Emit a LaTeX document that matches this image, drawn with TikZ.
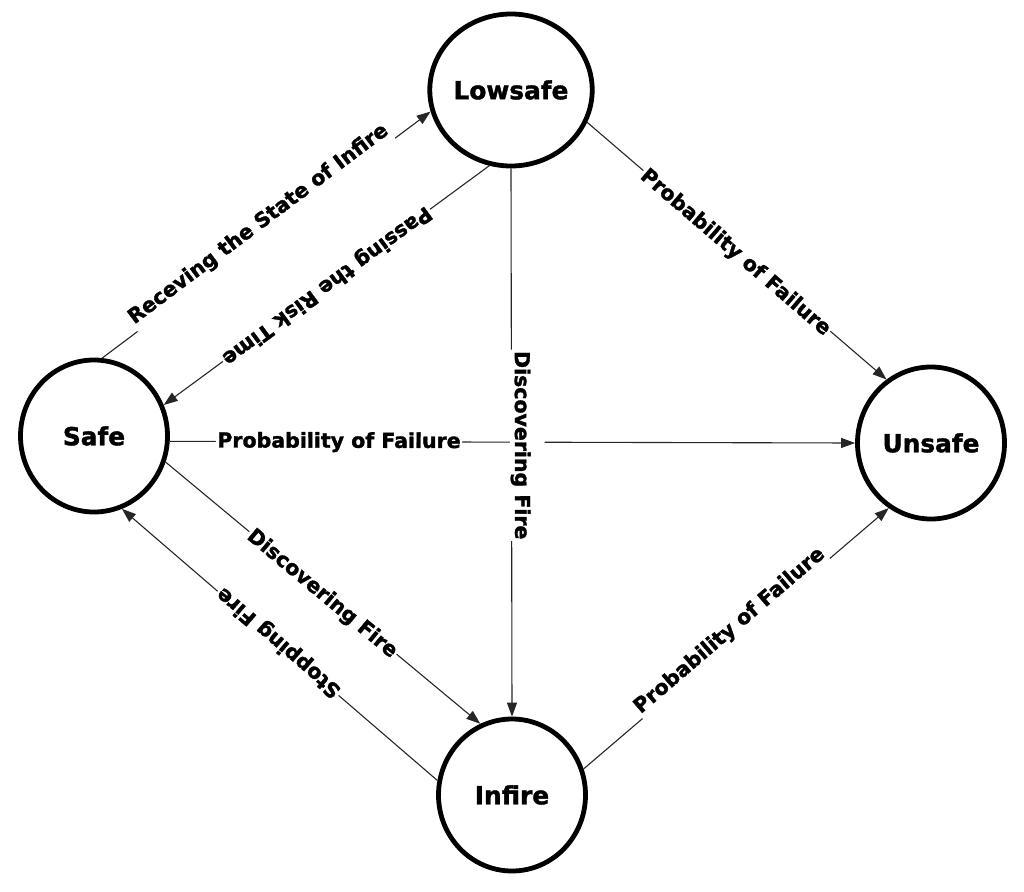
\documentclass[tikz,border=0pt]{standalone}
\usepackage{fontspec}
\setmainfont{DejaVu Sans}[BoldFeatures={FakeBold=1.6}]
\usetikzlibrary{arrows.meta,shapes.geometric}
\begin{document}
\begin{tikzpicture}[x=1pt,y=-1pt,
  state/.style={ellipse, draw, line width=4.8pt, minimum width=147pt, minimum height=152pt, inner sep=0pt, font=\fontsize{24.8}{30}\selectfont\bfseries},
  conn/.style={line width=1.1pt, draw=black!85},
  arr/.style={conn, -{Triangle[length=14pt,width=10pt]}},
  lbl/.style={sloped, allow upside down, anchor=base, fill=white, inner sep=1.5pt, text height=16pt, text depth=5pt, font=\fontsize{20.5}{24}\selectfont\bfseries, text=black},
]
\useasboundingbox (0,0) rectangle (1024,891);

\node[state] (L) at (511,90) {Lowsafe};
\node[state] (S) at (94,436) {Safe};
\node[state] (U) at (931,443) {Unsafe};
\node[state] (I) at (512,795) {Infire};

\draw[arr] (S.84) -- (L.195) node[lbl, pos=0.5, yshift=7.5pt, text depth=8pt] {Receving the State of Infire};
\draw[arr] (L.254) -- (S.24) node[lbl, pos=0.5, yshift=-5.5pt] {Passing the Risk Time};
\draw[arr] (S.-4) -- (U.west) node[lbl, pos=0.247, yshift=-6pt] {Probability of Failure};
\draw[arr] (L.south) -- (I.north) node[lbl, pos=0.505, yshift=3.5pt, text depth=3.5pt, text height=28pt] {Discovering Fire};
\draw[arr] (S.-20) -- (I.114) node[lbl, pos=0.5, yshift=-7pt] {Discovering Fire};
\draw[arr] (I.169) -- (S.291) node[lbl, pos=0.505, yshift=-7pt] {Stopping Fire};
\draw[arr] (L.-23) -- (U.125.5) node[lbl, pos=0.5, yshift=-8pt] {Probability of Failure};
\draw[arr] (I.20.6) -- (U.237.5) node[lbl, pos=0.5, yshift=4.5pt, text depth=6pt] {Probability of Failure};
\end{tikzpicture}
\end{document}
